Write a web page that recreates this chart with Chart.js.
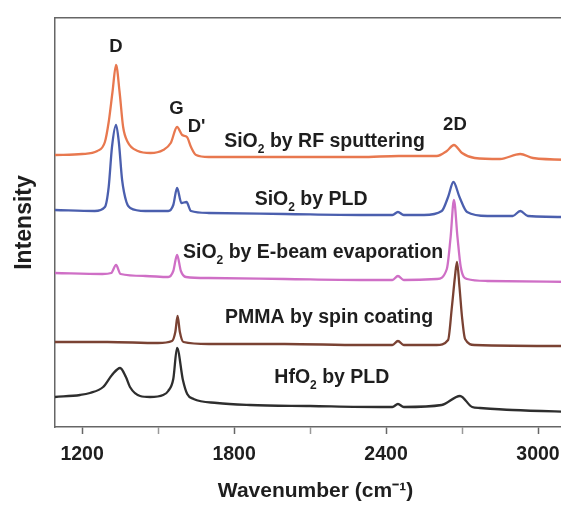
<!DOCTYPE html>
<html lang="en">
<head>
<meta charset="utf-8">
<title>Raman spectra of graphene under different dielectrics</title>
<script src="https://cdn.jsdelivr.net/npm/chart.js"></script>
<style>
	html, body { margin: 0; padding: 0; background: #fff; overflow: hidden; }
	#wrap { width: 585px; height: 506px; }
</style>
</head>
<body>
<div id="wrap"><canvas id="chart" width="585" height="506"></canvas></div>
<script>
// wavenumber (cm-1) and intensity (a.u., traces stacked with their offset)
const rfX = [1093, 1200, 1260, 1290, 1305, 1320, 1334, 1348, 1362, 1380, 1420, 1470, 1520, 1550, 1575, 1595, 1614, 1630, 1650, 1700, 2000, 2300, 2450, 2600, 2640, 2668, 2700, 2750, 2850, 2930, 2980, 3150]
const rfY = [272, 273, 276, 285, 305, 335, 362, 335, 300, 285, 276, 274, 277, 284, 300, 292, 290, 280, 272, 270, 270, 270, 271, 271, 276, 282, 274, 269, 268, 273, 269, 267]

const pldX = [1093, 1250, 1290, 1305, 1318, 1334, 1345, 1358, 1375, 1390, 1450, 1540, 1560, 1575, 1592, 1612, 1630, 1700, 2000, 2300, 2425, 2447, 2470, 2550, 2620, 2645, 2666, 2690, 2720, 2800, 2900, 2930, 2960, 3150]
const pldY = [217, 216, 220, 240, 280, 302, 285, 247, 225, 219, 216, 216, 222, 239, 224, 225, 216, 214, 213, 212, 212, 215, 212, 212, 216, 230, 245, 230, 215, 211, 211, 216, 211, 210]

const ebeamX = [1093, 1280, 1315, 1334, 1352, 1450, 1540, 1560, 1575, 1590, 1610, 1700, 2000, 2300, 2425, 2447, 2470, 2600, 2640, 2655, 2668, 2682, 2695, 2720, 2800, 3150]
const ebeamY = [154, 153, 154, 162, 153, 151, 150, 156, 172, 156, 150, 149, 148, 147, 147, 151, 147, 148, 158, 190, 227, 190, 160, 148, 146, 145]

const pmmaX = [1093, 1300, 1500, 1555, 1568, 1577, 1586, 1600, 1700, 2000, 2300, 2425, 2447, 2470, 2600, 2645, 2660, 2672, 2680, 2690, 2700, 2712, 2750, 3150]
const pmmaY = [85, 85, 84, 86, 95, 111, 95, 85, 83, 83, 82, 82, 86, 82, 82, 87, 120, 150, 165, 140, 110, 88, 82, 81]

const hfoX = [1093, 1192, 1231, 1283, 1318, 1350, 1373, 1389, 1429, 1468, 1520, 1540, 1560, 1575, 1598, 1615, 1640, 1733, 1863, 2100, 2376, 2425, 2447, 2470, 2620, 2692, 2740, 2771, 2900, 3150]
const hfoY = [30, 32, 34, 40, 52, 59, 50, 40, 31, 30, 32, 36, 48, 79, 47, 33, 28, 24, 22, 21, 20, 20, 23, 20, 22, 31, 20, 19, 17, 15]

const seriesColors = ["#e8784f", "#4b5fae", "#cf6fc6", "#7a4233", "#2e2e2e"]

// "_" marks a subscript character
const seriesLabels = ["SiO_2 by RF sputtering", "SiO_2 by PLD", "SiO_2 by E-beam evaporation", "PMMA by spin coating", "HfO_2 by PLD"]
const seriesLabelX = [2157, 2104, 2112, 2175, 2186]
const seriesLabelY = [285, 227, 174, 109, 49]

const peakLabels = ["D", "G", "D'", "2D"]
const peakLabelX = [1334, 1572, 1652, 2672]
const peakLabelY = [380, 318, 300, 302]

const xTicks = [1200, 1500, 1800, 2100, 2400, 2700, 3000]
const xTickLabels = ["1200", "", "1800", "", "2400", "", "3000"]

const toPoints = (xs, ys) => xs.map((x, i) => ({x: x, y: ys[i]}))

function drawRich(ctx, text, x, y, size) {
	const parts = []
	for (let i = 0; i < text.length; i++) {
		if (text[i] === "_") {
			parts.push({t: text[i + 1], sub: true})
			i++
		} else if (parts.length && !parts[parts.length - 1].sub) {
			parts[parts.length - 1].t += text[i]
		} else {
			parts.push({t: text[i], sub: false})
		}
	}
	const mainFont = "bold " + size + "px 'Liberation Sans', Arial, sans-serif"
	const subFont = "bold " + Math.round(size * 0.6) + "px 'Liberation Sans', Arial, sans-serif"
	let width = 0
	parts.forEach(p => {
		ctx.font = p.sub ? subFont : mainFont
		p.w = ctx.measureText(p.t).width
		width += p.w
	})
	let cx = x - width / 2
	ctx.textAlign = "left"
	ctx.textBaseline = "middle"
	parts.forEach(p => {
		ctx.font = p.sub ? subFont : mainFont
		ctx.fillText(p.t, cx, p.sub ? y + size * 0.4 : y)
		cx += p.w
	})
}

const labelPlugin = {
	id: "labels",
	afterDatasetsDraw(chart) {
		const ctx = chart.ctx
		const xs = chart.scales.x
		const ys = chart.scales.y
		ctx.save()
		ctx.fillStyle = "#1e1e1e"
		seriesLabels.forEach((t, i) => {
			drawRich(ctx, t, xs.getPixelForValue(seriesLabelX[i]), ys.getPixelForValue(seriesLabelY[i]), 19.5)
		})
		peakLabels.forEach((t, i) => {
			drawRich(ctx, t, xs.getPixelForValue(peakLabelX[i]), ys.getPixelForValue(peakLabelY[i]), 18.5)
		})
		ctx.restore()
	}
}

Chart.defaults.font.family = "'Liberation Sans', Arial, sans-serif"
Chart.defaults.color = "#1e1e1e"

const spectra = [[rfX, rfY], [pldX, pldY], [ebeamX, ebeamY], [pmmaX, pmmaY], [hfoX, hfoY]]

new Chart(document.getElementById("chart").getContext("2d"), {
	type: "line",
	data: {
		datasets: spectra.map((s, i) => ({
			label: seriesLabels[i],
			data: toPoints(s[0], s[1]),
			borderColor: seriesColors[i],
			backgroundColor: seriesColors[i],
			borderWidth: 2.3,
			pointRadius: 0,
			cubicInterpolationMode: "monotone",
			fill: false
		}))
	},
	options: {
		responsive: false,
		animation: false,
		layout: {
			padding: {left: 0, top: 18, right: 9, bottom: 0}
		},
		plugins: {
			legend: {display: false},
			tooltip: {enabled: false}
		},
		scales: {
			x: {
				type: "linear",
				min: 1093,
				max: 3150,
				afterBuildTicks: axis => { axis.ticks = xTicks.map(v => ({value: v})) },
				afterFit: axis => { axis.height = 79 },
				ticks: {
					callback: (v, i) => xTickLabels[i],
					font: {size: 19.5, weight: "bold"},
					color: "#1e1e1e",
					padding: 9,
					maxRotation: 0
				},
				grid: {
					drawOnChartArea: false,
					tickLength: 7,
					tickColor: ctx => xTickLabels[ctx.index] ? "#666" : "#999",
					tickWidth: 1.5
				},
				border: {color: "#666", width: 1.5},
				title: {
					display: true,
					text: "Wavenumber (cm\u207B\u00B9)",
					font: {size: 21, weight: "bold"},
					color: "#1e1e1e",
					padding: {top: 0, bottom: 2}
				}
			},
			xTop: {
				type: "linear",
				position: "top",
				min: 1093,
				max: 3150,
				afterFit: axis => { axis.height = 0 },
				ticks: {display: false},
				grid: {display: false},
				border: {display: true, color: "#666", width: 1.5}
			},
			y: {
				min: 0,
				max: 409,
				afterFit: axis => { axis.width = 55 },
				ticks: {display: false},
				grid: {drawOnChartArea: false, drawTicks: false},
				border: {color: "#666", width: 1.5},
				title: {
					display: true,
					text: "Intensity",
					font: {size: 23, weight: "bold"},
					color: "#1e1e1e",
					padding: {top: 11, bottom: 0}
				}
			}
		}
	},
	plugins: [labelPlugin]
})
</script>
</body>
</html>
